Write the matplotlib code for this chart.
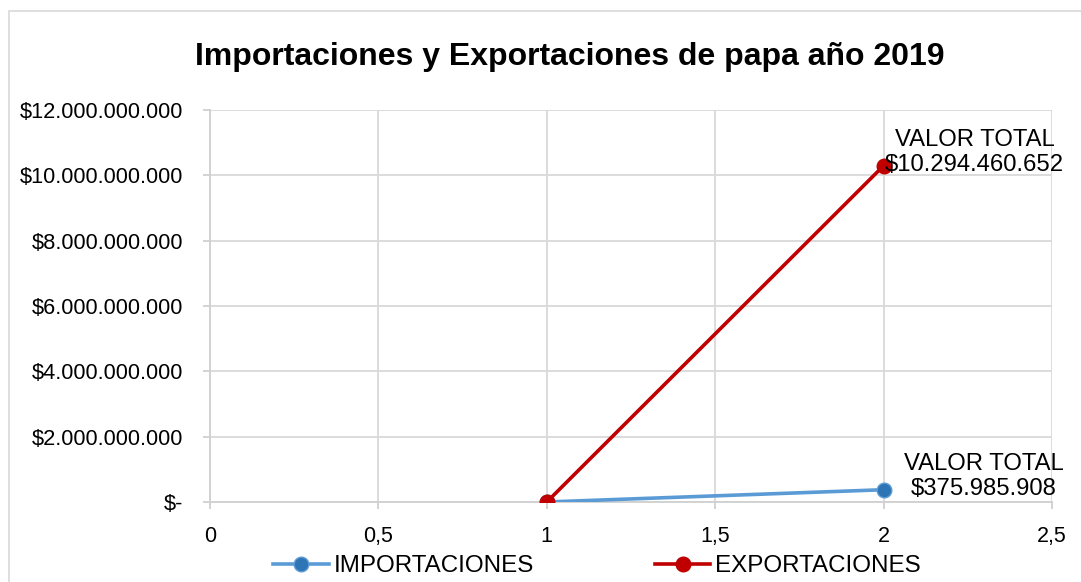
import matplotlib.pyplot as plt
from matplotlib.patches import Rectangle
from matplotlib.ticker import FuncFormatter, MultipleLocator

# datos
x_vals = [1, 2]
importaciones = [0, 375985908]
exportaciones = [0, 10294460652]
series_names = ["IMPORTACIONES", "EXPORTACIONES"]
label_text = "VALOR TOTAL"
title = "Importaciones y Exportaciones de papa año 2019"

plt.rcParams['font.family'] = ['Liberation Sans', 'DejaVu Sans']

W, H = 1081, 582
fig = plt.figure(figsize=(W / 100, H / 100), dpi=100)
ax = fig.add_axes([210 / W, 1 - 502 / H, (1052 - 210) / W, (502 - 110) / H])

# marco exterior del grafico
fig.patches.append(Rectangle((9 / W, -0.1), 1.2, 1 - 11 / H + 0.1, transform=fig.transFigure,
                             fill=False, edgecolor='#D9D9D9', linewidth=1.2))


def money(v, pos=None):
    if v == 0:
        return "$-"
    return "$" + f"{v:,.0f}".replace(",", ".")


def coma(v, pos=None):
    s = f"{v:g}"
    return s.replace(".", ",")


ax.plot(x_vals, importaciones, color='#5B9BD5', linewidth=2.6, marker='o', markersize=10.5,
        markerfacecolor='#2E75B6', markeredgecolor='#5B9BD5', label=series_names[0], zorder=3)
ax.plot(x_vals, exportaciones, color='#C00000', linewidth=2.6, marker='o', markersize=10.5,
        markerfacecolor='#C00000', markeredgecolor='#C00000', label=series_names[1], zorder=4)

# etiquetas de datos (desplazamiento en pixeles)
for vals, dx in ((exportaciones, 91), (importaciones, 100)):
    ax.annotate(f"{label_text}\n{money(vals[-1])}", xy=(x_vals[-1], vals[-1]),
                xytext=(dx, 13), textcoords='offset pixels', ha='center', va='center',
                multialignment='center', fontsize=17.2, linespacing=1.2, zorder=5)

ax.set_xlim(0, 2.5)
ax.set_ylim(0, 12e9)
ax.xaxis.set_major_locator(MultipleLocator(0.5))
ax.yaxis.set_major_locator(MultipleLocator(2e9))
ax.xaxis.set_major_formatter(FuncFormatter(coma))
ax.yaxis.set_major_formatter(FuncFormatter(money))

ax.grid(True, color='#D9D9D9', linewidth=1.3)
ax.set_axisbelow(True)
for s in ax.spines.values():
    s.set_visible(False)
ax.spines['bottom'].set_visible(True)
ax.spines['left'].set_visible(True)
ax.spines['bottom'].set_color('#D0D0D0')
ax.spines['left'].set_color('#D0D0D0')
ax.spines['bottom'].set_linewidth(1.3)
ax.spines['left'].set_linewidth(1.3)
ax.tick_params(axis='both', direction='out', length=5, width=1.3, color='#D0D0D0')
ax.tick_params(axis='y', labelsize=15.7, pad=14)
ax.tick_params(axis='x', labelsize=15.5, pad=12)

fig.text(570 / W, 1 - 57 / H, title, ha='center', va='center', fontsize=23, fontweight='bold')

fig.legend(loc='center', bbox_to_anchor=(597 / W, 1 - 566 / H), ncol=2, frameon=False,
           fontsize=17.4, handlelength=2.3, handletextpad=0.2, columnspacing=5.0,
           borderaxespad=0, borderpad=0)

fig.savefig("out.png", dpi=100)
